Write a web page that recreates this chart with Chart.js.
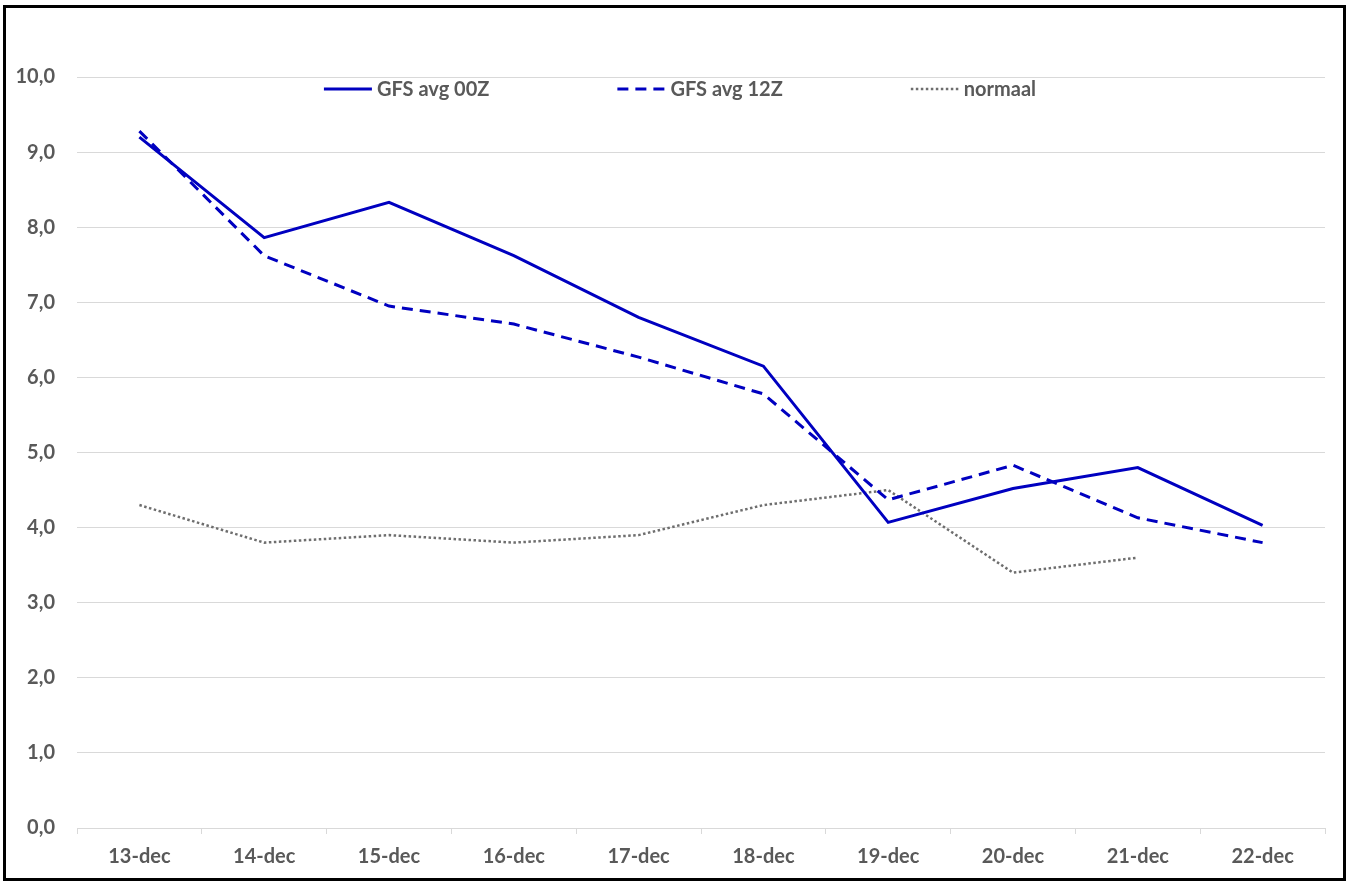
<!DOCTYPE html>
<html>
<head>
<meta charset="utf-8">
<script src="https://cdn.jsdelivr.net/npm/chart.js@4/dist/chart.umd.min.js"></script>
<style>
    html, body { margin: 0; padding: 0; background: #fff; }
    #wrap { position: relative; width: 1350px; height: 883px; }
    #frame {
        position: absolute; left: 3px; top: 5px; width: 1343px; height: 876px;
        border: 3px solid #000; box-sizing: border-box; pointer-events: none;
    }
</style>
</head>
<body>
<div id="wrap">
    <canvas id="myChart" width="1350" height="883"></canvas>
    <div id="frame"></div>
</div>
<script>
    const labels = ['13-dec', '14-dec', '15-dec', '16-dec', '17-dec', '18-dec', '19-dec', '20-dec', '21-dec', '22-dec'];

    const gfs00 = [9.20, 7.86, 8.33, 7.62, 6.80, 6.15, 4.07, 4.52, 4.80, 4.03];
    const gfs12 = [9.28, 7.62, 6.95, 6.71, 6.27, 5.78, 4.37, 4.83, 4.13, 3.80];
    const normaal = [4.3, 3.8, 3.9, 3.8, 3.9, 4.3, 4.5, 3.4, 3.6, null];

    const textColor = '#595959';
    const gridColor = '#d9d9d9';
    const fontFamily = 'Lato, "Open Sans", sans-serif';
    const font = { family: fontFamily, size: 20, weight: 'bold' };

    // legend drawn inside the plot area, like the Excel original
    const insideLegend = {
        id: 'insideLegend',
        afterDraw( chart, args, opts ) {
            const { ctx, chartArea } = chart;
            const sample = 48, textGap = 5, itemGap = 128;

            ctx.save();
            ctx.font = `bold ${ font.size }px ${ fontFamily }`;
            ctx.textBaseline = 'middle';

            const items = chart.data.datasets.map( ds => ({
                ds,
                width: sample + textGap + ctx.measureText( ds.label ).width
            }));
            const total = items.reduce( ( s, it ) => s + it.width, 0 ) + itemGap * ( items.length - 1 );

            let x = ( chartArea.left + chartArea.right ) / 2 - opts.shift - total / 2;
            const y = chartArea.top + opts.offsetY;

            items.forEach( ({ ds, width }) => {
                ctx.beginPath();
                ctx.strokeStyle = ds.borderColor;
                ctx.lineWidth = ds.borderWidth;
                ctx.setLineDash( ds.borderDash || [] );
                ctx.moveTo( x, y );
                ctx.lineTo( x + sample, y );
                ctx.stroke();
                ctx.setLineDash( [] );

                ctx.fillStyle = textColor;
                ctx.fillText( ds.label, x + sample + textGap, y + 1 );
                x += width + itemGap;
            });
            ctx.restore();
        }
    };

    const ctx = document.getElementById('myChart');

    new Chart(ctx, {
        type: 'line',
        data: {
            labels: labels,
            datasets: [
                {
                    label: 'GFS avg 00Z',
                    data: gfs00,
                    borderColor: '#0000c0',
                    backgroundColor: '#0000c0',
                    borderWidth: 3,
                    pointRadius: 0,
                    tension: 0
                },
                {
                    label: 'GFS avg 12Z',
                    data: gfs12,
                    borderColor: '#0000c0',
                    backgroundColor: '#0000c0',
                    borderWidth: 3,
                    borderDash: [11, 7],
                    pointRadius: 0,
                    tension: 0
                },
                {
                    label: 'normaal',
                    data: normaal,
                    borderColor: '#6e6e6e',
                    backgroundColor: '#6e6e6e',
                    borderWidth: 2.5,
                    borderDash: [2.5, 2.5],
                    pointRadius: 0,
                    tension: 0
                }
            ]
        },
        plugins: [ insideLegend ],
        options: {
            responsive: false,
            animation: false,
            devicePixelRatio: 1,
            layout: {
                padding: { left: 0, right: 25, top: 77, bottom: 0 }
            },
            plugins: {
                tooltip: { enabled: false },
                legend: { display: false },
                insideLegend: { offsetY: 12, shift: 21 }
            },
            scales: {
                x: {
                    offset: true,
                    afterFit: scale => { scale.height = 55; },
                    grid: {
                        offset: true,
                        drawOnChartArea: false,
                        drawTicks: true,
                        tickLength: 6,
                        color: gridColor
                    },
                    border: { display: true, color: gridColor, width: 1 },
                    ticks: {
                        color: textColor,
                        font: font,
                        padding: 11,
                        maxRotation: 0
                    }
                },
                y: {
                    min: 0,
                    max: 10,
                    afterFit: scale => { scale.width = 77; },
                    grid: {
                        color: gridColor,
                        drawTicks: false
                    },
                    border: { display: false },
                    ticks: {
                        stepSize: 1,
                        color: textColor,
                        font: font,
                        padding: 22,
                        callback: value => value.toFixed(1).replace('.', ',')
                    }
                }
            }
        }
    });
</script>
</body>
</html>
